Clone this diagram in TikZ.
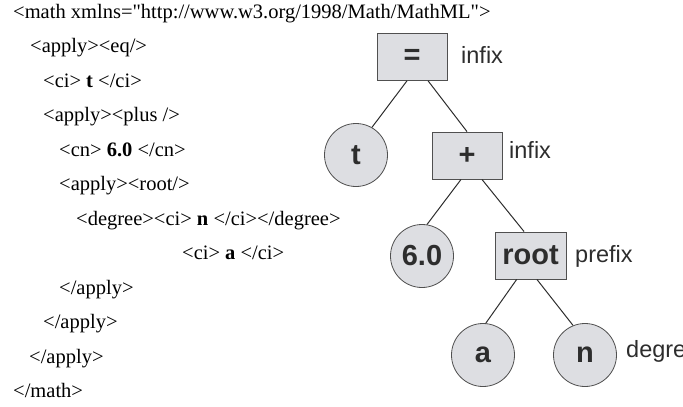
\documentclass[tikz,border=0pt]{standalone}
\usepackage{fontspec}
\setmainfont{Liberation Serif}
\newfontfamily\arialfont{Liberation Sans}
\usepackage{xcolor}
\definecolor{nodefill}{RGB}{221,222,226}
\definecolor{nodeline}{RGB}{80,80,80}
\definecolor{nodetext}{RGB}{45,45,45}

\tikzset{
  xmlline/.style={anchor=base west, inner sep=0pt, font=\fontsize{20.5}{24}\selectfont},
  opbox/.style={draw=nodeline, fill=nodefill, line width=0.8pt, minimum width=70pt, minimum height=47pt,
    inner sep=0pt, text=nodetext, font=\arialfont\bfseries\fontsize{29}{32}\selectfont},
  leafcirc/.style={draw=nodeline, fill=nodefill, line width=0.8pt, circle, minimum size=63pt,
    inner sep=0pt, text=nodetext, font=\arialfont\bfseries\fontsize{29}{32}\selectfont},
  fixlabel/.style={anchor=base west, inner sep=0pt, text=nodetext, font=\arialfont\fontsize{23.5}{26}\selectfont},
  treeedge/.style={draw=nodetext, line width=1pt}
}

\begin{document}
\begin{tikzpicture}[x=1pt,y=-1pt]
		\useasboundingbox (0,0) rectangle (683,407);
		\clip (0,0) rectangle (683,407); % cuts the last label at the page edge

		% MathML source on the left
		\node[xmlline] (src1)  at (13,18)    {<math xmlns=\textquotedbl http://www.w3.org/1998/Math/MathML\textquotedbl>};
		\node[xmlline] (src2)  at (30,52.5)  {<apply><eq/>};
		\node[xmlline] (src3)  at (43,87)    {<ci> \textbf{t} </ci>};
		\node[xmlline] (src4)  at (43,121.5) {<apply><plus />};
		\node[xmlline] (src5)  at (59,156)   {<cn> \textbf{6.0} </cn>};
		\node[xmlline] (src6)  at (59,190.5) {<apply><root/>};
		\node[xmlline] (src7)  at (76,225)   {<degree><ci> \textbf{n} </ci></degree>};
		\node[xmlline] (src8)  at (182,259.5){<ci> \textbf{a} </ci>};
		\node[xmlline] (src9)  at (59,294)   {</apply>};
		\node[xmlline] (src10) at (43,328.5) {</apply>};
		\node[xmlline] (src11) at (29,363)   {</apply>};
		\node[xmlline] (src12) at (13,397.5) {</math>};

		% expression tree on the right
		\node[opbox]    (eq)   at (412,57)    {=};
		\node[leafcirc] (t)    at (356,155)   {t};
		\node[opbox]    (plus) at (467,155.5) {+};
		\node[leafcirc] (six)  at (422,256)   {6.0};
		\node[opbox, minimum width=71pt] (root) at (530.5,255.5) {root};
		\node[leafcirc] (a)    at (483,355)   {a};
		\node[leafcirc] (n)    at (585,355)   {n};

		\draw[treeedge] (eq.258)   -- (t.60);
		\draw[treeedge] (eq.304)   -- (plus.90);
		\draw[treeedge] (plus.256) -- (six.81);
		\draw[treeedge] (plus.302) -- (root.105);
		\draw[treeedge] (root.240) -- (a.85);
		\draw[treeedge] (root.285) -- (n.112);

		% notation labels
		\node[fixlabel] (eqfix)   at (461,63)  {infix};
		\node[fixlabel] (plusfix) at (509,158) {infix};
		\node[fixlabel] (rootfix) at (575,262) {prefix};
		\node[fixlabel] (nfix)    at (626,357) {degree};
	  \end{tikzpicture}
\end{document}
